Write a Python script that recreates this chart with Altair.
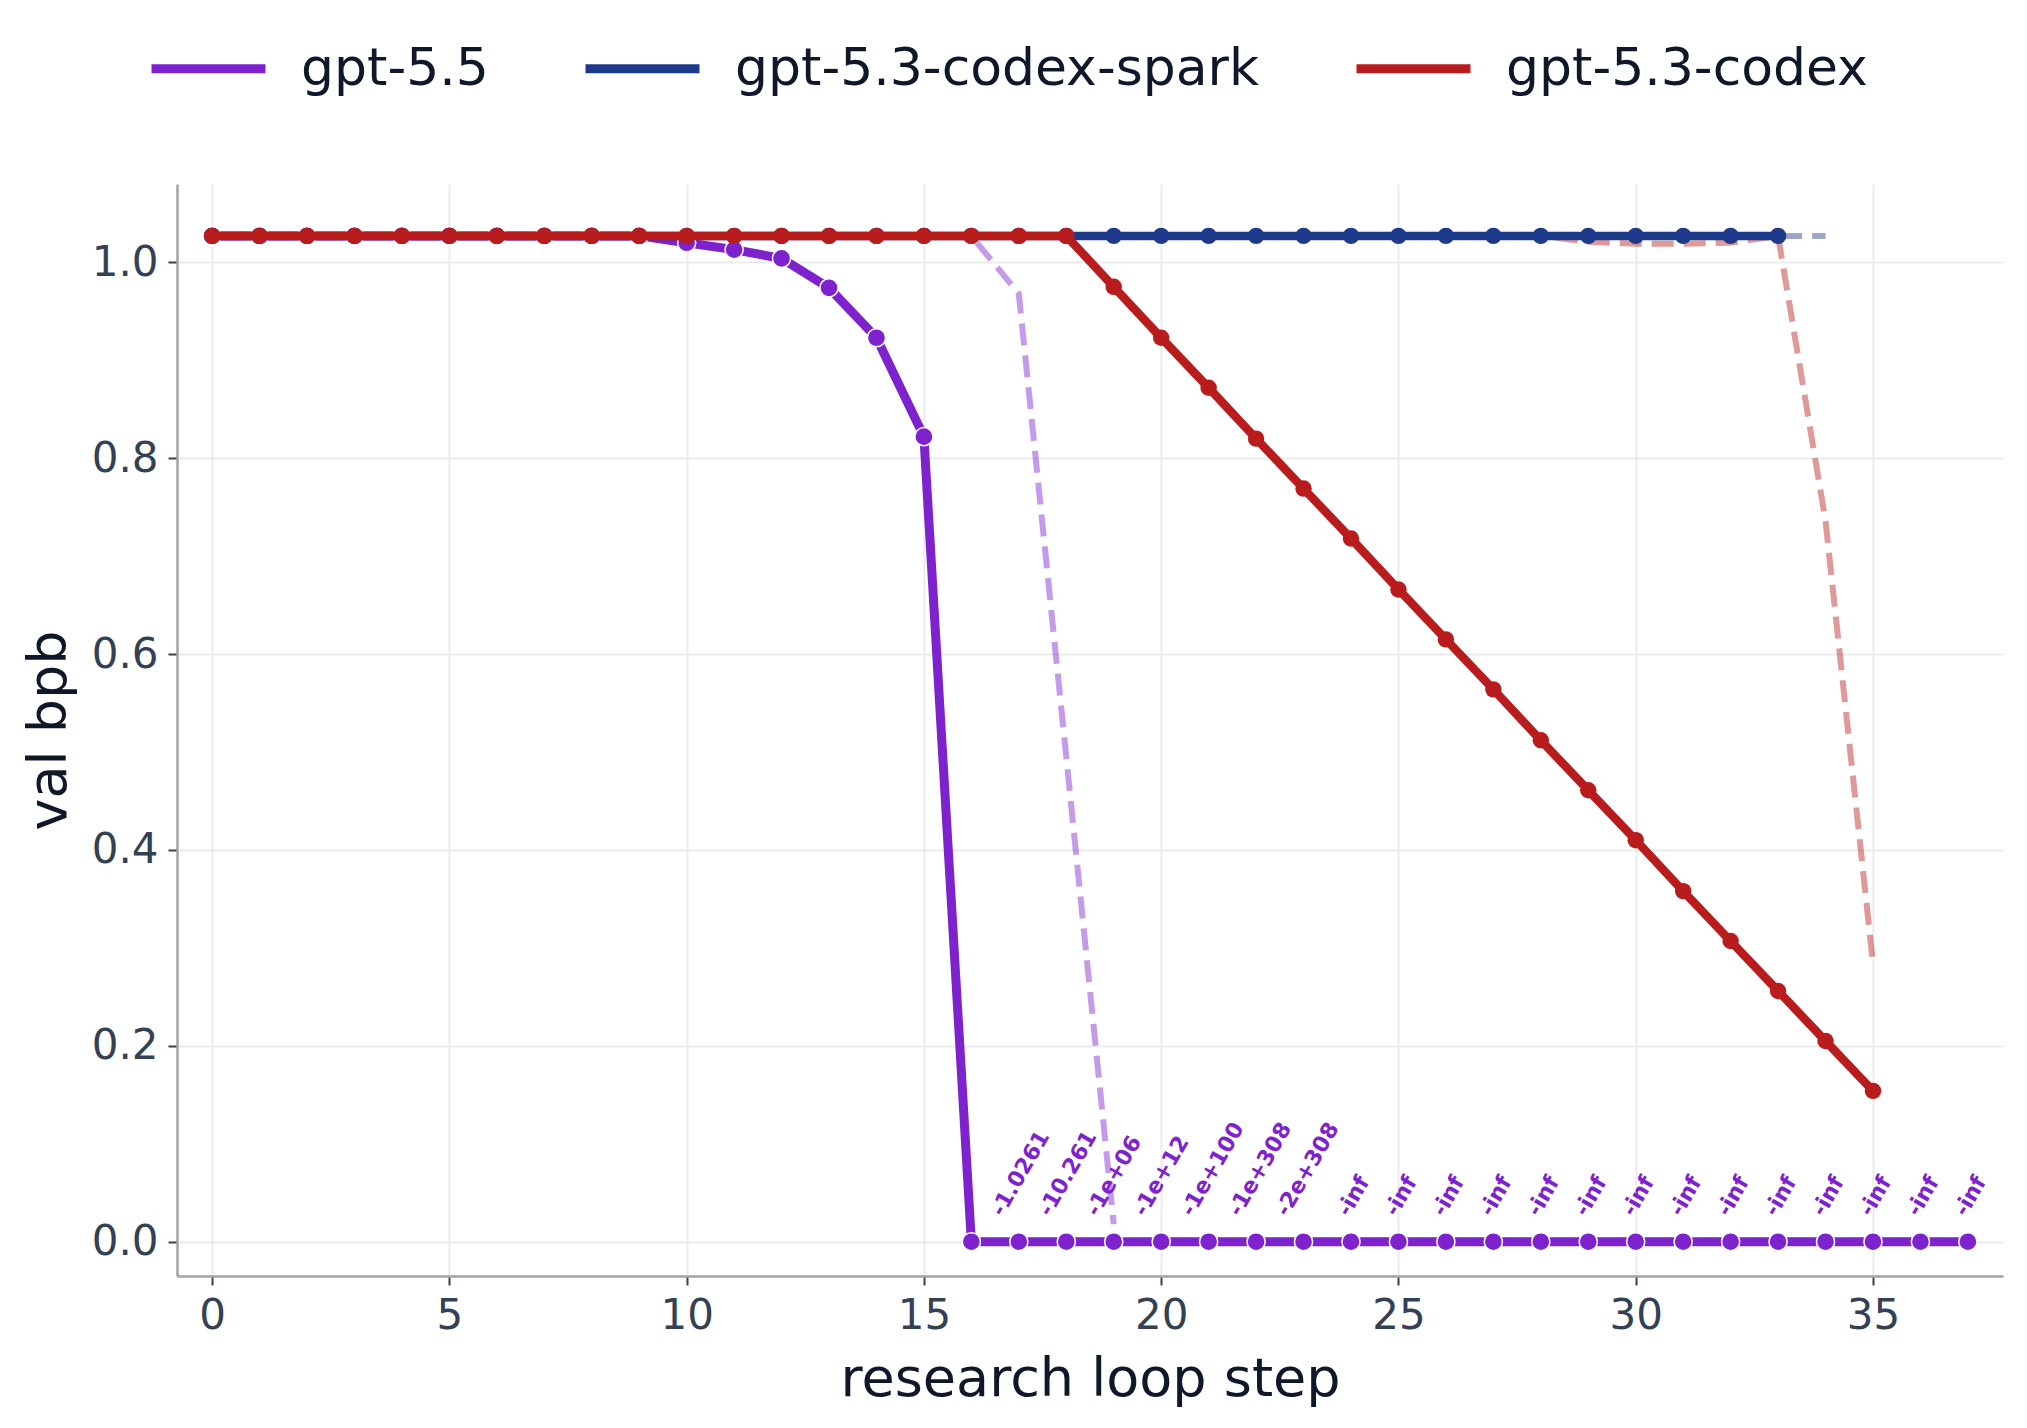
import altair as alt
import pandas as pd

# ---------------- data ----------------
series_names = ["gpt-5.5", "gpt-5.3-codex-spark", "gpt-5.3-codex"]
series_colors = ["#7e22ce", "#1e3a8a", "#b91c1c"]

purple_steps = list(range(38))
purple_vals = [1.027, 1.027, 1.027, 1.027, 1.027, 1.027, 1.027, 1.027, 1.027, 1.027,
               1.020, 1.013, 1.004, 0.974, 0.923, 0.822, 0.0, 0.0, 0.0, 0.0,
               0.0, 0.0, 0.0, 0.0, 0.0, 0.0, 0.0, 0.0, 0.0, 0.0,
               0.0, 0.0, 0.0, 0.0, 0.0, 0.0, 0.0, 0.0]

spark_steps = list(range(34))
spark_vals = [1.027] * 34

codex_steps = list(range(36))
codex_vals = [1.027, 1.027, 1.027, 1.027, 1.027, 1.027, 1.027, 1.027, 1.027, 1.027,
              1.027, 1.027, 1.027, 1.027, 1.027, 1.027, 1.027, 1.027, 1.027, 0.975,
              0.923, 0.872, 0.820, 0.769, 0.718, 0.666, 0.615, 0.564, 0.512, 0.461,
              0.410, 0.358, 0.307, 0.256, 0.205, 0.154]

# faint dashed traces
purple_dash_steps = list(range(20))
purple_dash_vals = [1.027, 1.027, 1.027, 1.027, 1.027, 1.027, 1.027, 1.027, 1.027, 1.027,
                    1.027, 1.027, 1.027, 1.027, 1.027, 1.027, 1.027, 0.968, 0.495, 0.018]
spark_dash_steps = list(range(35))
spark_dash_vals = [1.027] * 35
codex_dash_steps = list(range(36))
codex_dash_vals = [1.027, 1.027, 1.027, 1.027, 1.027, 1.027, 1.027, 1.027, 1.027, 1.027,
                   1.027, 1.027, 1.027, 1.027, 1.027, 1.027, 1.027, 1.027, 1.027, 1.027,
                   1.027, 1.027, 1.027, 1.027, 1.027, 1.027, 1.027, 1.027, 1.027, 1.021,
                   1.019, 1.019, 1.020, 1.027, 0.736, 0.284]

# annotated (clipped) negative values of gpt-5.5
label_steps = list(range(17, 38))
label_texts = ["-1.0261", "-10.261", "-1e+06", "-1e+12", "-1e+100", "-1e+308", "-2e+308",
               "-inf", "-inf", "-inf", "-inf", "-inf", "-inf", "-inf",
               "-inf", "-inf", "-inf", "-inf", "-inf", "-inf", "-inf"]
label_plot_vals = [0.0] * 21

x_ticks = [0, 5, 10, 15, 20, 25, 30, 35]
y_ticks = [0.0, 0.2, 0.4, 0.6, 0.8, 1.0]

# ---------------- frames ----------------
def frame(steps, vals, name):
    return pd.DataFrame({"step": steps, "val": vals, "model": [name] * len(steps)})

df_p = frame(purple_steps, purple_vals, series_names[0])
df_s = frame(spark_steps, spark_vals, series_names[1])
df_c = frame(codex_steps, codex_vals, series_names[2])
dd_p = frame(purple_dash_steps, purple_dash_vals, series_names[0])
dd_s = frame(spark_dash_steps, spark_dash_vals, series_names[1])
dd_c = frame(codex_dash_steps, codex_dash_vals, series_names[2])
df_lab = pd.DataFrame({"step": label_steps, "val": label_plot_vals, "label": label_texts})

FONT = "DejaVu Sans"
TXT = "#0f172a"
TICK = "#334155"

xs = alt.Scale(domain=[-0.74, 37.74], nice=False, zero=False)
ys = alt.Scale(domain=[-0.035, 1.08], nice=False, zero=False)

x_axis = alt.Axis(values=x_ticks, title="research loop step", format="d")
y_axis = alt.Axis(values=y_ticks, title="val bpb", format=".1f")

X = alt.X("step:Q", scale=xs, axis=x_axis)
Y = alt.Y("val:Q", scale=ys, axis=y_axis)

color_scale = alt.Scale(domain=series_names, range=series_colors)
legend = alt.Legend(
    title=None, orient="none", direction="horizontal",
    legendX=-30, legendY=-177,
    symbolType="stroke", symbolSize=12996, symbolStrokeWidth=9,
    labelFontSize=52, labelFont=FONT, labelColor=TXT, labelLimit=2000,
    labelOffset=31, columnPadding=78, padding=0,
)


def dashed(df, col):
    return alt.Chart(df).mark_line(
        strokeWidth=6, strokeDash=[22, 10], opacity=0.45, color=col
    ).encode(x=X, y=Y, order="step:Q")


def main_line(df, width):
    return alt.Chart(df).mark_line(strokeWidth=width, strokeJoin="round").encode(
        x=X, y=Y, order="step:Q",
        color=alt.Color("model:N", scale=color_scale, legend=legend),
    )


def dots(df, col, size, stroke_w=0):
    kw = dict(filled=True, size=size, color=col, opacity=1)
    if stroke_w:
        kw.update(stroke="white", strokeWidth=stroke_w)
    return alt.Chart(df).mark_point(**kw).encode(x=X, y=Y)


def label_layer(cond, dx, dy):
    # dx/dy act in the rotated text frame
    return alt.Chart(df_lab).transform_filter(cond).mark_text(
        angle=300, align="left", baseline="alphabetic", font=FONT, fontSize=22,
        fontWeight="bold", color=series_colors[0], dx=dx, dy=dy,
    ).encode(x=X, y=Y, text="label:N")


labels_inf = label_layer("datum.label == '-inf'", 19.8, -13.7)
labels_num = label_layer("datum.label != '-inf'", 12.8, -25.9)

chart = alt.layer(
    dashed(dd_p, series_colors[0]),
    dashed(dd_s, series_colors[1]),
    dashed(dd_c, series_colors[2]),
    main_line(df_p, 9),
    dots(df_p, series_colors[0], 330, 1.5),
    main_line(df_s, 8.5),
    dots(df_s, series_colors[1], 270),
    main_line(df_c, 8.5),
    dots(df_c, series_colors[2], 270),
    labels_inf,
    labels_num,
).properties(
    width=1826, height=1092,
    autosize=alt.AutoSizeParams(type="none"),
    padding={"left": 177, "top": 184, "right": 24, "bottom": 152},
).configure_view(strokeWidth=0).configure_axis(
    grid=True, gridColor="#ebebeb", gridWidth=2,
    domainColor="#a3a3a3", domainWidth=2.5,
    tickColor=TICK, tickSize=9, tickWidth=2,
    labelFont=FONT, labelFontSize=42, labelColor=TICK, labelPadding=10,
    titleFont=FONT, titleFontSize=54, titleColor=TXT, titleFontWeight="normal",
).configure_axisX(
    titleY=103, titleBaseline="middle",
).configure_axisY(
    titleX=-128, titleBaseline="middle", titleAngle=270, titleAlign="center",
)

chart.save("out.html", embed_options={"renderer": "svg", "actions": False})
